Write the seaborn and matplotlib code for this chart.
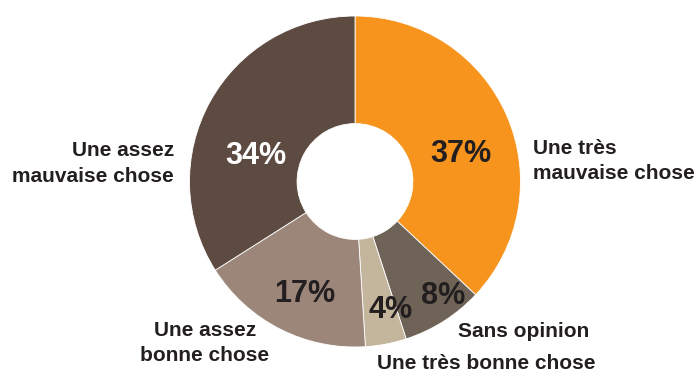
import matplotlib
matplotlib.use("Agg")
import matplotlib.pyplot as plt
import seaborn as sns

# ---- data ----
categories = ["Une très mauvaise chose", "Sans opinion", "Une très bonne chose",
              "Une assez bonne chose", "Une assez mauvaise chose"]
values = [37, 8, 4, 17, 34]
pct_labels = ["37%", "8%", "4%", "17%", "34%"]
colors = ["#F7941E", "#6E6356", "#C4B59D", "#9B8679", "#5D4B41"]
pct_colors = ["#231F20", "#231F20", "#231F20", "#231F20", "#FFFFFF"]

sns.set_theme(style="white")
plt.rcParams["font.family"] = ["Liberation Sans", "DejaVu Sans"]

W, H, DPI = 698, 372, 100
R = 165.5            # pie radius in px
CX, CY = 355, 181.5  # centre in px (from top)

fig = plt.figure(figsize=(W / DPI, H / DPI), dpi=DPI)
ax = fig.add_axes([0, 0, 1, 1])

ax.pie(values, colors=colors, startangle=90, counterclock=False,
       radius=1.0, wedgeprops=dict(width=0.65, edgecolor="white", linewidth=0.6))

ax.set_xlim(-CX / R, (W - CX) / R)
ax.set_ylim(-(H - CY) / R, CY / R)
ax.set_aspect("auto")
ax.axis("off")


def P(px, py):
    return (px - CX) / R, (CY - py) / R


# percentage labels (px positions of baseline centre)
pct_pos = [(461, 162.5), (443, 303.5), (391, 318.5), (305, 301.5), (256, 164.5)]
for lab, col, (px, py) in zip(pct_labels, pct_colors, pct_pos):
    x, y = P(px, py)
    ax.text(x, y, lab, ha="center", va="baseline", fontsize=22,
            fontweight="bold", color=col)

# category labels, line by line
TXT = "#231F20"
cat_lines = [
    (["Une très", "mauvaise chose"], "left", 533, [154, 179]),
    (["Sans opinion"], "center", 524, [337]),
    (["Une très bonne chose"], "center", 486, [369]),
    (["Une assez", "bonne chose"], "center", 205, [336, 361]),
    (["Une assez", "mauvaise chose"], "right", 174, [156.5, 181.5]),
]
for lines, ha, px, ys in cat_lines:
    for line, py in zip(lines, ys):
        x, y = P(px, py)
        ax.text(x, y, line, ha=ha, va="baseline", fontsize=15,
                fontweight="bold", color=TXT)

fig.savefig("out.png", dpi=DPI)
